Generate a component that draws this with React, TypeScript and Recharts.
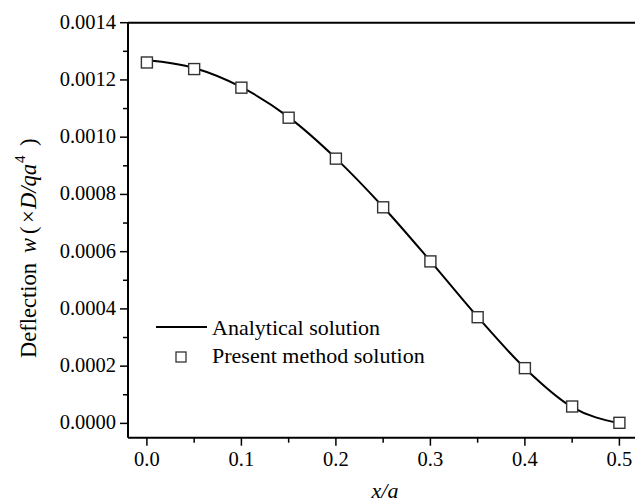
import React from "react";
import { ComposedChart, Line, XAxis, YAxis, ReferenceLine, Legend, Label } from "recharts";

const positions = [0, 0.05, 0.1, 0.15, 0.2, 0.25, 0.3, 0.35, 0.4, 0.45, 0.5];
const analyticalValues = [0.00127, 0.001242, 0.001175, 0.00107, 0.000926, 0.000756, 0.000567, 0.000372, 0.000193, 0.000057, 0.0000];
const presentValues = [0.001261, 0.001238, 0.001173, 0.001068, 0.000925, 0.000755, 0.000566, 0.000371, 0.000193, 0.000059, 0.000002];
const xTicks = [0, 0.05, 0.1, 0.15, 0.2, 0.25, 0.3, 0.35, 0.4, 0.45, 0.5];
const yTicks = [0, 0.0001, 0.0002, 0.0003, 0.0004, 0.0005, 0.0006, 0.0007, 0.0008, 0.0009, 0.001, 0.0011, 0.0012, 0.0013, 0.0014];
const seriesNames = ["Analytical solution", "Present method solution"];

const analytical = positions.map((x, i) => ({ x, w: analyticalValues[i] }));
const present = positions.map((x, i) => ({ x, w: presentValues[i] }));

const FONT = "'Liberation Serif', 'Times New Roman', serif";

const YTick = (props: any) => {
  const { x, y, payload } = props;
  const major = Math.round(payload.value * 10000) % 2 === 0;
  return (
    <g>
      <line x1={x} x2={x - (major ? 8 : 5)} y1={y} y2={y} stroke="#000" strokeWidth={1.5} />
      {major && (
        <text x={x - 12} y={y + 6} textAnchor="end" fontFamily={FONT} fontSize={20.5} fill="#000">
          {payload.value.toFixed(4)}
        </text>
      )}
    </g>
  );
};

const XTick = (props: any) => {
  const { x, y, payload } = props;
  const major = Math.round(payload.value * 100) % 10 === 0;
  return (
    <g>
      <line x1={x} x2={x} y1={y} y2={y + (major ? 8 : 5)} stroke="#000" strokeWidth={1.5} />
      {major && (
        <text x={x} y={y + 28} textAnchor="middle" fontFamily={FONT} fontSize={20.5} fill="#000">
          {payload.value.toFixed(1)}
        </text>
      )}
    </g>
  );
};

const SquareDot = (props: any) => {
  const { cx, cy } = props;
  if (cx == null || cy == null) return null;
  return <rect x={cx - 5.5} y={cy - 5.5} width={11} height={11} fill="#fff" stroke="#333" strokeWidth={1.4} />;
};

const LegendContent = () => (
  <svg width={340} height={60} style={{ overflow: "visible", display: "block" }}>
    <line x1={0} x2={51} y1={8} y2={8} stroke="#000" strokeWidth={2} />
    <text x={56} y={16} fontFamily={FONT} fontSize={22} fill="#000">{seriesNames[0]}</text>
    <rect x={20} y={33} width={10} height={10} fill="#fff" stroke="#333" strokeWidth={1.3} />
    <text x={56} y={44} fontFamily={FONT} fontSize={22} fill="#000">{seriesNames[1]}</text>
  </svg>
);

const X0 = 36;
const Y0 = 358;
const YLabel = () => (
  <text
    x={X0}
    y={Y0}
    transform={`rotate(-90, ${X0}, ${Y0})`}
    fontFamily={FONT}
    fontSize={22.5}
    fill="#000"
  >
    <tspan x={X0}>Deflection</tspan>
    <tspan x={X0 + 105} fontStyle="italic">w</tspan>
    <tspan x={X0 + 124}>(</tspan>
    <tspan x={X0 + 135}>×</tspan>
    <tspan x={X0 + 149} fontStyle="italic">D/qa</tspan>
    <tspan x={X0 + 195} fontSize={15} dy={-11}>4</tspan>
    <tspan x={X0 + 212} dy={11}>)</tspan>
  </text>
);

const XLabel = () => (
  <text x={385} y={498} textAnchor="middle" fontFamily={FONT} fontSize={22} fontStyle="italic" fill="#000">
    x/a
  </text>
);

export default function App() {
  return (
    <div style={{ position: "absolute", left: 0, top: 0, width: 635, height: 502, overflow: "hidden", background: "#fff" }}>
      <ComposedChart width={639} height={502} margin={{ top: 22.7, right: 0.7, bottom: 0, left: 0 }}>
        <XAxis
          type="number"
          dataKey="x"
          domain={[-0.02, 0.52]}
          ticks={xTicks}
          interval={0}
          tick={<XTick />}
          tickLine={false}
          tickSize={0}
          tickMargin={0}
          height={64.3}
          axisLine={{ stroke: "#000", strokeWidth: 2 }}
          allowDataOverflow
        >
          <Label content={<XLabel />} />
        </XAxis>
        <YAxis
          type="number"
          dataKey="w"
          domain={[-0.00005, 0.0014]}
          ticks={yTicks}
          interval={0}
          tick={<YTick />}
          tickLine={false}
          tickSize={0}
          tickMargin={0}
          width={128}
          axisLine={{ stroke: "#000", strokeWidth: 2 }}
          allowDataOverflow
        >
          <Label content={<YLabel />} />
        </YAxis>
        <ReferenceLine y={0.0014} stroke="#000" strokeWidth={2} />
        <Line
          data={analytical}
          dataKey="w"
          type="monotone"
          stroke="#000"
          strokeWidth={2}
          dot={false}
          isAnimationActive={false}
          name={seriesNames[0]}
        />
        <Line
          data={present}
          dataKey="w"
          stroke="none"
          dot={<SquareDot />}
          activeDot={false}
          isAnimationActive={false}
          name={seriesNames[1]}
        />
        <Legend
          layout="vertical"
          align="center"
          verticalAlign="middle"
          content={<LegendContent />}
          wrapperStyle={{ position: "absolute", left: 156, top: 319, width: 340, height: 60, margin: 0, padding: 0 }}
        />
      </ComposedChart>
    </div>
  );
}
